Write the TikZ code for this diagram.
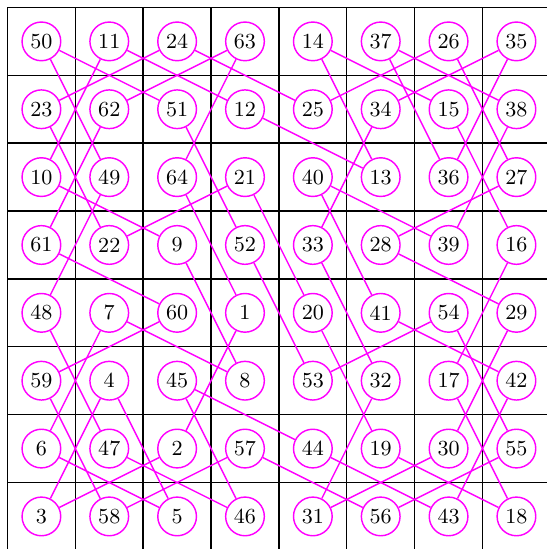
\documentclass[tikz,border=0pt]{standalone}
\usepackage{xcolor}
\definecolor{tourmag}{RGB}{255,0,255}
\begin{document}
\begin{tikzpicture}[
  sq/.style={circle, draw=tourmag, semithick, minimum size=0.57cm,
             inner sep=0pt, font=\small},
  hop/.style={draw=tourmag, semithick},
  rule/.style={black, semithick}
]
\useasboundingbox (-0.11,0.11) rectangle (7.95,-7.98);

%% ── Board lines (top/left border, inner lines)
\foreach \k in {0,...,7}{
  \draw[rule] (0,-\k) -- (7.95,-\k);
  \draw[rule] (\k,0) -- (\k,-7.98);
}

%% ── Squares, numbered by visit order
\foreach \r/\row in {
  1/{50,11,24,63,14,37,26,35},
  2/{23,62,51,12,25,34,15,38},
  3/{10,49,64,21,40,13,36,27},
  4/{61,22,9,52,33,28,39,16},
  5/{48,7,60,1,20,41,54,29},
  6/{59,4,45,8,53,32,17,42},
  7/{6,47,2,57,44,19,30,55},
  8/{3,58,5,46,31,56,43,18}}{
  \foreach \v [count=\c] in \row
    \node[sq] (n\v) at (\c-0.5, 0.5-\r) {\v};
}

%% ── Knight moves (closed tour)
\foreach \i [evaluate=\i as \j using {int(mod(\i,64)+1)}] in {1,...,64}
  \draw[hop] (n\i) -- (n\j);

\end{tikzpicture}
\end{document}
